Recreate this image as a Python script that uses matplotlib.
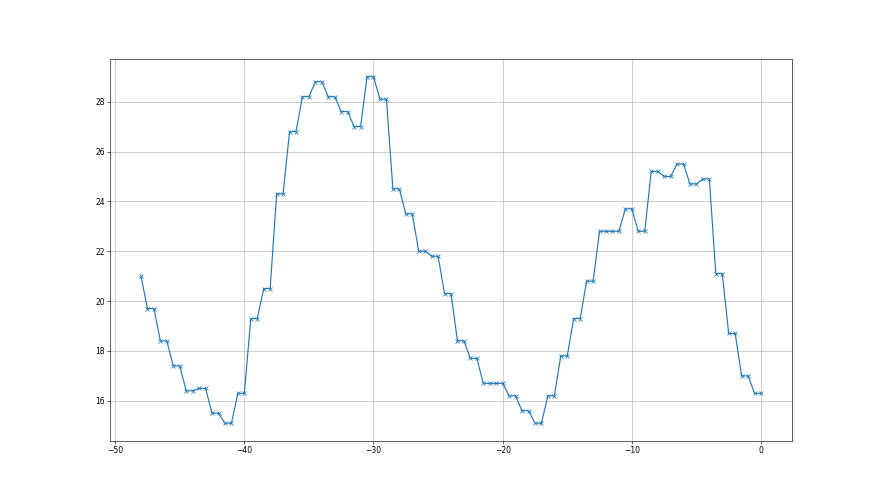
import matplotlib
matplotlib.use('Agg')
import matplotlib.pyplot as plt
import numpy as np

# first sample, then values that hold for two half-steps each
first_value = 21.0
pair_values = [19.7, 18.4, 17.4, 16.4, 16.5, 15.5, 15.1, 16.3, 19.3, 20.5,
               24.3, 26.8, 28.2, 28.8, 28.2, 27.6, 27.0, 29.0, 28.1, 24.5,
               23.5, 22.0, 21.8, 20.3, 18.4, 17.7, 16.7, 16.7, 16.2, 15.6,
               15.1, 16.2, 17.8, 19.3, 20.8, 22.8, 22.8, 23.7, 22.8, 25.2,
               25.0, 25.5, 24.7, 24.9, 21.1, 18.7, 17.0, 16.3]

y = [first_value]
for v in pair_values:
    y += [v, v]
x = np.arange(-48, 0.01, 0.5)

fig = plt.figure(figsize=(16., 9.), dpi=55)
ax = fig.add_subplot(111)
ax.plot(x, y, marker='x')
ax.grid(True)

plt.savefig('out.png', dpi=55)
